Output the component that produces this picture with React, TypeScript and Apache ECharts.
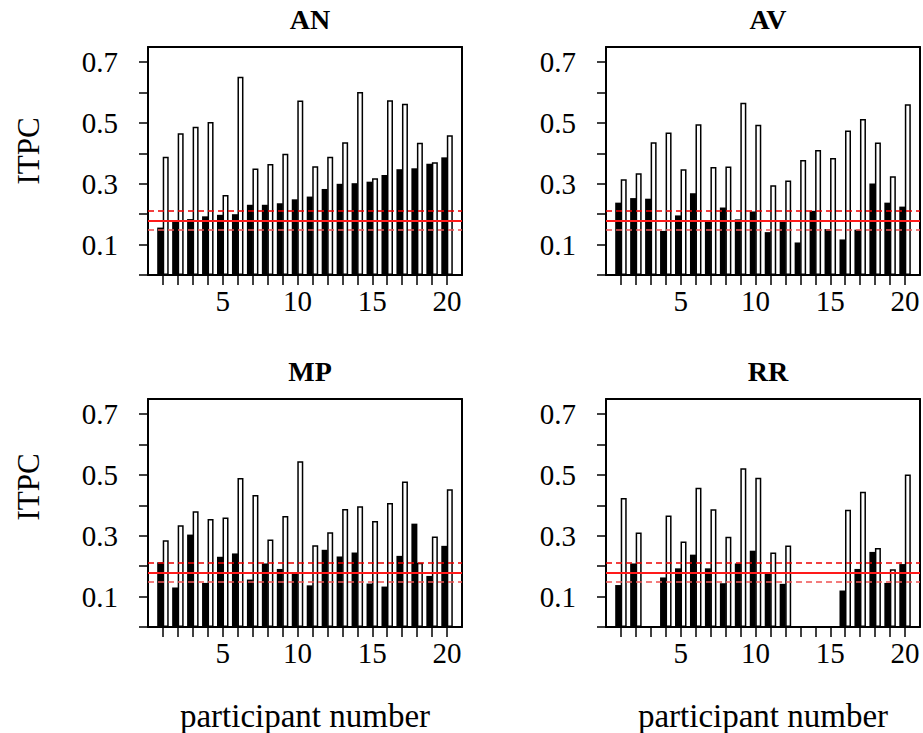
import { useEffect, useRef } from 'react'
import * as echarts from 'echarts'

const participants = Array.from({ length: 20 }, (_, i) => i + 1)
const panelNames = ['AN', 'AV', 'MP', 'RR']

// black bars (filled) per condition
const anFilled = [0.156, 0.181, 0.184, 0.193, 0.198, 0.2, 0.231, 0.231, 0.236, 0.249, 0.258, 0.283, 0.3, 0.302, 0.307, 0.329, 0.348, 0.351, 0.366, 0.387]
const anOpen = [0.389, 0.466, 0.488, 0.503, 0.263, 0.652, 0.35, 0.365, 0.399, 0.574, 0.358, 0.389, 0.437, 0.602, 0.318, 0.575, 0.563, 0.435, 0.371, 0.46]
const avFilled = [0.238, 0.253, 0.251, 0.145, 0.196, 0.269, 0.181, 0.222, 0.183, 0.209, 0.141, 0.181, 0.107, 0.211, 0.151, 0.117, 0.149, 0.301, 0.238, 0.225]
const avOpen = [0.315, 0.335, 0.437, 0.469, 0.348, 0.496, 0.355, 0.357, 0.567, 0.494, 0.295, 0.311, 0.378, 0.411, 0.385, 0.475, 0.513, 0.436, 0.325, 0.562]
const mpFilled = [0.213, 0.13, 0.304, 0.145, 0.231, 0.242, 0.156, 0.209, 0.191, 0.179, 0.137, 0.254, 0.232, 0.245, 0.143, 0.133, 0.234, 0.34, 0.168, 0.267]
const mpOpen = [0.285, 0.335, 0.381, 0.355, 0.36, 0.49, 0.434, 0.288, 0.365, 0.545, 0.269, 0.312, 0.388, 0.397, 0.349, 0.408, 0.479, 0.211, 0.298, 0.453]
const rrFilled = [0.138, 0.209, null, 0.163, 0.193, 0.238, 0.193, 0.144, 0.209, 0.251, 0.178, 0.142, null, null, null, 0.12, 0.191, 0.247, 0.145, 0.207]
const rrOpen = [0.424, 0.311, null, 0.367, 0.281, 0.458, 0.387, 0.297, 0.522, 0.491, 0.245, 0.268, null, null, null, 0.386, 0.445, 0.26, 0.19, 0.502]

const filledSets = [anFilled, avFilled, mpFilled, rrFilled]
const openSets = [anOpen, avOpen, mpOpen, rrOpen]

const thresholdMean = 0.183
const thresholdHigh = 0.21
const thresholdLow = 0.155

const yTicks = [0, 0.1, 0.2, 0.3, 0.4, 0.5, 0.6, 0.7]
const yLabels = [0.1, 0.3, 0.5, 0.7]
const xLabels = [5, 10, 15, 20]

const FONT = 'Liberation Serif'

export default function App() {
  const ref = useRef<HTMLDivElement | null>(null)

  useEffect(() => {
    if (!ref.current) return
    document.body.style.margin = '0'
    const chart = echarts.init(ref.current, null, { renderer: 'svg' })

    const lefts = [148, 606, 148, 606]
    const tops = [47, 47, 399, 399]
    const W = 314
    const H = 228

    const grid = lefts.map((l, i) => ({
      left: l,
      top: tops[i],
      width: W,
      height: H
    }))

    const frameLine = { show: true, onZero: false, lineStyle: { color: '#000', width: 2 } }
    const xAxis: any[] = []
    const yAxis: any[] = []
    lefts.forEach((_, i) => {
      xAxis.push({
        type: 'value',
        gridIndex: i,
        min: 0,
        max: 21,
        interval: 1,
        splitLine: { show: false },
        axisLine: frameLine,
        axisTick: { show: true, length: 10, customValues: participants, lineStyle: { color: '#000', width: 1.5 } },
        axisLabel: {
          customValues: xLabels,
          margin: 11,
          fontFamily: FONT,
          fontSize: 29,
          color: '#000'
        }
      })
      yAxis.push({
        type: 'value',
        gridIndex: i,
        min: 0,
        max: 0.75,
        interval: 0.1,
        splitLine: { show: false },
        axisLine: frameLine,
        axisTick: { show: true, length: 9, customValues: yTicks, lineStyle: { color: '#000', width: 1.5 } },
        axisLabel: {
          customValues: yLabels,
          formatter: (v: number) => v.toFixed(1),
          margin: 30,
          fontFamily: FONT,
          fontSize: 29,
          color: '#000'
        }
      })
    })
    // top and right edges of each panel frame
    lefts.forEach((_, i) => {
      xAxis.push({
        type: 'value', gridIndex: i, position: 'top', min: 0, max: 21,
        axisLine: frameLine, axisTick: { show: false }, axisLabel: { show: false }, splitLine: { show: false }
      })
      yAxis.push({
        type: 'value', gridIndex: i, position: 'right', min: 0, max: 0.75,
        axisLine: frameLine, axisTick: { show: false }, axisLabel: { show: false }, splitLine: { show: false }
      })
    })

    const series: any[] = []
    panelNames.forEach((_, i) => {
      series.push({
        type: 'bar',
        xAxisIndex: i,
        yAxisIndex: i,
        barWidth: 6,
        barGap: '-8%',
        itemStyle: { color: '#000' },
        data: participants.map((p, k) => [p, filledSets[i][k] ?? '-']),
        markLine: {
          silent: true,
          symbol: 'none',
          label: { show: false },
          data: [
            { yAxis: thresholdMean, lineStyle: { color: '#ff1a1a', width: 2, type: 'solid' } },
            { yAxis: thresholdHigh, lineStyle: { color: '#ee0000', width: 1.5, type: [6, 4] } },
            { yAxis: thresholdLow, lineStyle: { color: '#f05050', width: 1.5, type: [6, 4] } }
          ]
        },
        z: 2
      })
      series.push({
        type: 'bar',
        xAxisIndex: i,
        yAxisIndex: i,
        barWidth: 6,
        barGap: '-8%',
        itemStyle: { color: '#fff', borderColor: '#000', borderWidth: 1.5 },
        data: participants.map((p, k) => [p, openSets[i][k] ?? '-']),
        z: 3
      })
    })

    const title = panelNames.map((n, i) => ({
      text: n,
      left: lefts[i] + W / 2,
      top: tops[i] - 47,
      textAlign: 'center',
      textStyle: { fontFamily: FONT, fontSize: 28, fontWeight: 'bold', color: '#000' }
    }))

    const graphic: any[] = []
    ;[151, 487].forEach((cy) => {
      graphic.push({
        type: 'text',
        x: 28,
        y: cy,
        rotation: Math.PI / 2,
        style: {
          text: 'ITPC',
          fontFamily: FONT,
          fontSize: 31,
          fill: '#000',
          align: 'center',
          verticalAlign: 'middle'
        }
      })
    })
    ;[305, 763].forEach((cx) => {
      graphic.push({
        type: 'text',
        x: cx,
        y: 716,
        style: {
          text: 'participant number',
          fontFamily: FONT,
          fontSize: 33,
          fill: '#000',
          align: 'center',
          verticalAlign: 'middle'
        }
      })
    })

    chart.setOption({
      animation: false,
      backgroundColor: '#fff',
      title,
      grid,
      xAxis,
      yAxis,
      series,
      graphic
    })

    return () => chart.dispose()
  }, [])

  return <div ref={ref} style={{ width: 923, height: 733 }} />
}
